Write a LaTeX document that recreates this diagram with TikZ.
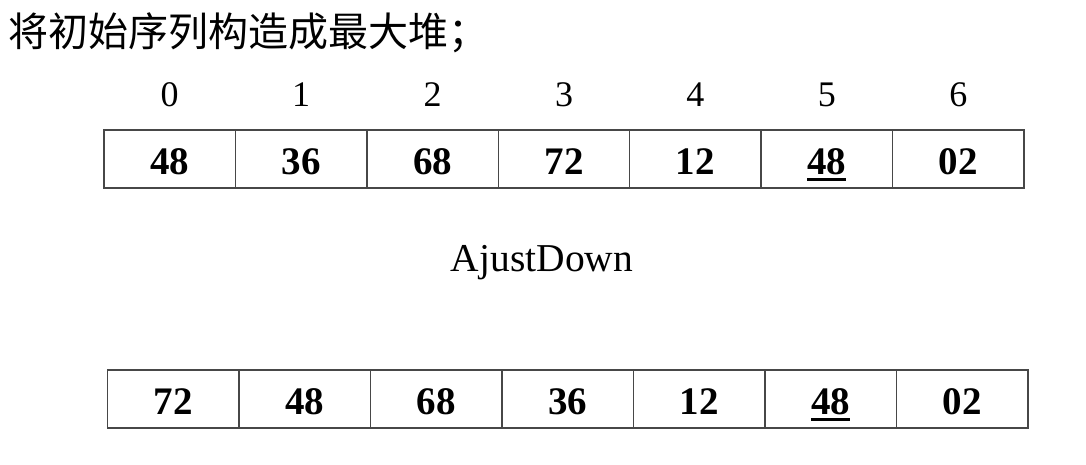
\documentclass[tikz,border=0pt]{standalone}
\usepackage{fontspec}
\setmainfont{Liberation Serif}
\newfontfamily\cjkfont{Noto Sans CJK SC}
\newcommand\myul[1]{\setbox0\hbox{#1}\rlap{\rule[-7pt]{\wd0}{3.5pt}}\box0}
\begin{document}
\begin{tikzpicture}[x=1pt,y=-1pt,
  cell/.style={draw=black!72, line width=1.4pt, minimum width=131.5pt, minimum height=58pt,
    inner sep=0pt, outer sep=0pt, text height=30pt, text depth=0pt,
    font=\fontsize{39}{40}\selectfont\bfseries},
  idx/.style={anchor=base, inner sep=0pt, font=\fontsize{36}{40}\selectfont},
  plain/.style={anchor=base, inner sep=0pt, font=\fontsize{39.5}{40}\selectfont},
  title/.style={anchor=base west, inner sep=0pt, font=\cjkfont\fontsize{40}{44}\selectfont}]
\useasboundingbox (0,0) rectangle (1086,464);
\node[title] (t) at (8,46) {将初始序列构造成最大堆；};
\foreach \i in {0,...,6} {
  \node[idx] (i\i) at ({104+131.43*(\i+0.5)},106) {\i};
}
\foreach \v [count=\k from 0] in {48,36,68,72,12,\myul{48},02} {
  \node[cell] (a\k) at ({104+131.43*(\k+0.5)},159) {\v};
}
\node[plain] (adj) at (542,271) {AjustDown};
\foreach \v [count=\k from 0] in {72,48,68,36,12,\myul{48},02} {
  \node[cell] (b\k) at ({107.5+131.5*(\k+0.5)},399) {\v};
}
\end{tikzpicture}
\end{document}
